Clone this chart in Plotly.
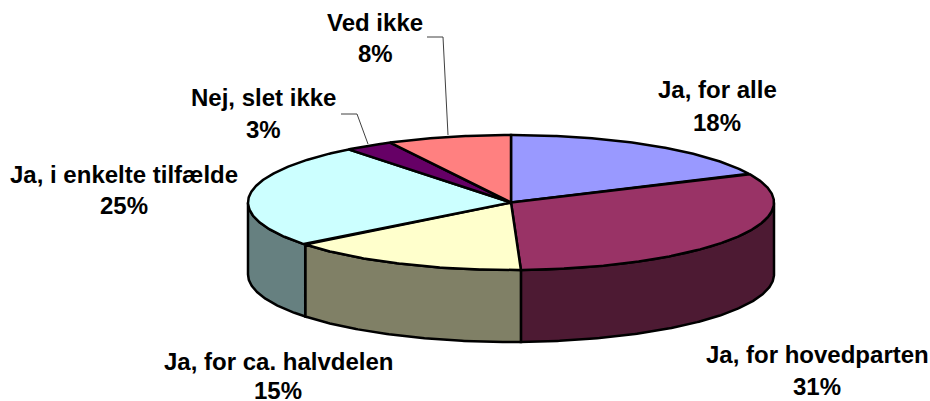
import numpy as np
import plotly.graph_objects as go

categories = ["Ja, for alle", "Ja, for hovedparten", "Ja, for ca. halvdelen",
              "Ja, i enkelte tilfælde", "Nej, slet ikke", "Ved ikke"]
slice_shares = [18.0, 31.4, 14.9, 25.1, 3.0, 7.6]
share_labels = ["18%", "31%", "15%", "25%", "3%", "8%"]
top_colors = ["#9999FF", "#993366", "#FFFFCC", "#CCFFFF", "#660066", "#FF8080"]
side_colors = ["#4D4D80", "#4D1A33", "#808066", "#668080", "#330033", "#804040"]

CX, CY, RX, RY, DEPTH = 511, 202.5, 263, 67.5, 72
W, H = 930, 401
label_pos = [(717, 89, 122), (817, 354, 386), (278, 361, 390),
             (124, 174, 205), (263, 97, 129), (375, 22, 53)]

def arc(a0, a1, dy=0.0):
    t = np.radians(np.linspace(a0, a1, max(2, int(abs(a1 - a0) * 2) + 2)))
    return CX + RX * np.sin(t), CY - RY * np.cos(t) + dy

fig = go.Figure()
LINE = dict(color="black", width=2.5)
cum = np.concatenate([[0], np.cumsum(slice_shares)]) / np.sum(slice_shares) * 360

# visible outer wall (front half)
for i in range(len(slice_shares)):
    a0, a1 = max(cum[i], 90), min(cum[i + 1], 270)
    if a1 <= a0:
        continue
    xt, yt = arc(a0, a1)
    xb, yb = arc(a1, a0, DEPTH)
    fig.add_trace(go.Scatter(x=np.r_[xt, xb, xt[0]], y=np.r_[yt, yb, yt[0]], mode="lines",
                             fill="toself", fillcolor=side_colors[i], line=LINE,
                             hoverinfo="skip", showlegend=False))
# top face
for i in range(len(slice_shares)):
    xt, yt = arc(cum[i], cum[i + 1])
    fig.add_trace(go.Scatter(x=np.r_[CX, xt, CX], y=np.r_[CY, yt, CY], mode="lines",
                             fill="toself", fillcolor=top_colors[i], line=LINE,
                             name=categories[i], text=share_labels[i],
                             hoverinfo="name+text", showlegend=False))

# leader lines
leader = dict(color="#404040", width=1)
fig.add_trace(go.Scatter(x=[427, 443, 448], y=[37, 37, 135], mode="lines", line=leader,
                         hoverinfo="skip", showlegend=False))
fig.add_trace(go.Scatter(x=[341, 357, 368], y=[114, 114, 144], mode="lines", line=leader,
                         hoverinfo="skip", showlegend=False))

font = dict(family="Liberation Sans, Arial, sans-serif", size=24, color="black")
ann = []
for cat, pct, (x, y1, y2) in zip(categories, share_labels, label_pos):
    ann.append(dict(x=x, y=y1, text=f"<b>{cat}</b>", showarrow=False, font=font,
                    xanchor="center", yanchor="middle"))
    ann.append(dict(x=x, y=y2, text=f"<b>{pct}</b>", showarrow=False, font=font,
                    xanchor="center", yanchor="middle"))

fig.update_layout(
    width=W, height=H, margin=dict(l=0, r=0, t=0, b=0),
    paper_bgcolor="white", plot_bgcolor="white", annotations=ann,
    xaxis=dict(range=[0, W], visible=False, fixedrange=True),
    yaxis=dict(range=[H, 0], visible=False, fixedrange=True),
)
fig.write_html("out.html", config={"displayModeBar": False},
               post_script="document.body.style.margin='0';document.body.style.overflow='hidden';")
